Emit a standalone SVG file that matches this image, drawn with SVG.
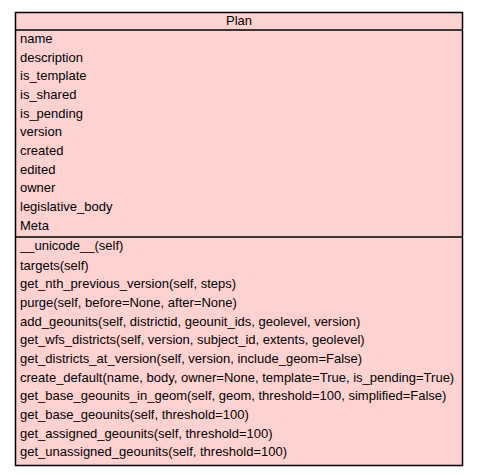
<svg xmlns="http://www.w3.org/2000/svg" width="477" height="475" viewBox="0 0 477 475">
<style>
.t{font-family:"Liberation Sans",Arial,sans-serif;font-size:13px;fill:#000}
.ln{stroke:#000;stroke-width:1.5}
</style>
<rect width="477" height="475" fill="#fff"/>
<g id="Plan">
<rect x="15.5" y="12.5" width="447" height="453" fill="#ffd2d2" stroke="#000" stroke-width="1.5"/>
<text class="t" x="239" y="25" text-anchor="middle">Plan</text>
<line class="ln" x1="15" y1="30" x2="463" y2="30"/>
<g class="t">
<text x="20" y="43">name</text>
<text x="20" y="62">description</text>
<text x="20" y="80">is_template</text>
<text x="20" y="99">is_shared</text>
<text x="20" y="118">is_pending</text>
<text x="20" y="136">version</text>
<text x="20" y="155">created</text>
<text x="20" y="174">edited</text>
<text x="20" y="192">owner</text>
<text x="20" y="211">legislative_body</text>
<text x="20" y="230">Meta</text>
</g>
<line class="ln" x1="15" y1="237" x2="463" y2="237"/>
<g class="t">
<text x="20" y="250">__unicode__(self)</text>
<text x="20" y="270">targets(self)</text>
<text x="20" y="288">get_nth_previous_version(self, steps)</text>
<text x="20" y="307">purge(self, before=None, after=None)</text>
<text x="20" y="326">add_geounits(self, districtid, geounit_ids, geolevel, version)</text>
<text x="20" y="344">get_wfs_districts(self, version, subject_id, extents, geolevel)</text>
<text x="20" y="363">get_districts_at_version(self, version, include_geom=False)</text>
<text x="20" y="382">create_default(name, body, owner=None, template=True, is_pending=True)</text>
<text x="20" y="400">get_base_geounits_in_geom(self, geom, threshold=100, simplified=False)</text>
<text x="20" y="419">get_base_geounits(self, threshold=100)</text>
<text x="20" y="438">get_assigned_geounits(self, threshold=100)</text>
<text x="20" y="456">get_unassigned_geounits(self, threshold=100)</text>
</g>
</g>
</svg>
